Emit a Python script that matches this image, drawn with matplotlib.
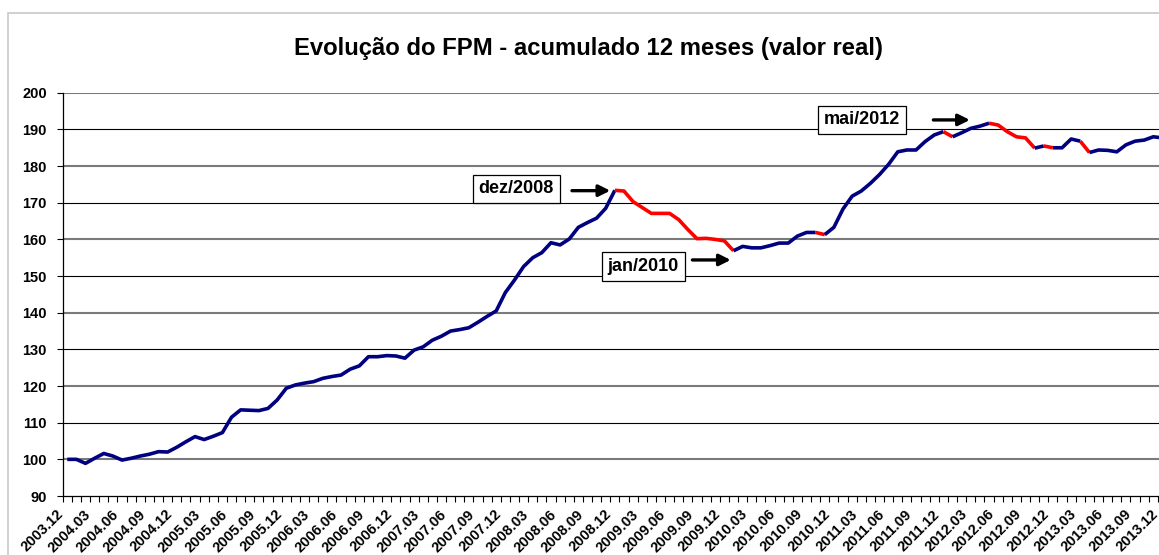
import matplotlib
matplotlib.use("Agg")
import matplotlib.pyplot as plt
from matplotlib.patches import Rectangle
from matplotlib.transforms import ScaledTranslation
import numpy as np

# ---------------- data ----------------
title = "Evolução do FPM - acumulado 12 meses (valor real)"

months = [f"{2003 + (11 + i) // 12}.{(11 + i) % 12 + 1:02d}" for i in range(121)]

values = [
    100.0, 100.0, 98.9, 100.3, 101.6, 100.9, 99.8, 100.3, 100.9, 101.4,
    102.1, 102.0, 103.3, 104.8, 106.2, 105.4, 106.3, 107.3, 111.5, 113.5,
    113.4, 113.3, 113.9, 116.2, 119.4, 120.3, 120.8, 121.2, 122.1, 122.6,
    123.0, 124.6, 125.5, 128.0, 128.0, 128.3, 128.2, 127.6, 129.8, 130.7,
    132.5, 133.6, 135.0, 135.4, 135.9, 137.4, 139.0, 140.5, 145.5, 148.9,
    152.6, 155.0, 156.4, 159.1, 158.5, 160.1, 163.3, 164.6, 165.8, 168.5,
    173.4, 173.2, 170.3, 168.7, 167.1, 167.1, 167.1, 165.4, 162.7, 160.2,
    160.3, 160.0, 159.6, 156.9, 158.1, 157.7, 157.7, 158.3, 159.0, 159.0,
    160.9, 161.9, 161.9, 161.3, 163.3, 168.3, 171.8, 173.2, 175.3, 177.7,
    180.5, 183.9, 184.4, 184.4, 186.7, 188.5, 189.4, 188.0, 189.1, 190.3,
    190.9, 191.7, 191.2, 189.4, 188.0, 187.7, 184.9, 185.5, 185.0, 185.0,
    187.4, 186.8, 183.7, 184.4, 184.3, 183.9, 185.8, 186.8, 187.1, 188.0,
    187.7,
]

# segments (start index) drawn in red
red_segments = list(range(60, 73)) + [82, 96, 101, 102, 103, 104, 105, 107, 111]

# annotations: (label, box x, box y, arrow start x, arrow end x, arrow y)
annotations = [
    ("dez/2008", 49.2, 173.8, 55.3, 59.5, 173.3),
    ("jan/2010", 63.1, 152.6, 68.5, 72.7, 154.4),
    ("mai/2012", 87.1, 192.6, 94.9, 98.9, 192.6),
]

# ---------------- figure ----------------
plt.rcParams['font.family'] = ['Liberation Sans', 'DejaVu Sans']
W, H = 1159, 555
fig = plt.figure(figsize=(W / 100, H / 100), dpi=100)
fig.patch.set_facecolor("white")

# outer light-gray chart border (cropped at right/bottom)
fig.patches.append(Rectangle((8 / W, -0.2), 1.2, 1 - 13 / H + 0.2,
                             transform=fig.transFigure, fill=False,
                             edgecolor="#c8c8c8", lw=1.2))

ax_left, ax_right = 62.7, 1167.0
ax_top, ax_bot = 92.8, 496.0
ax = fig.add_axes([ax_left / W, 1 - ax_bot / H, (ax_right - ax_left) / W,
                   (ax_bot - ax_top) / H])

x = np.arange(len(values))
yv = np.array(values)
colors = ["red" if i in red_segments else "navy" for i in range(len(values) - 1)]

# group consecutive segments with the same colour
start = 0
for i in range(1, len(colors) + 1):
    if i == len(colors) or colors[i] != colors[start]:
        c = "#FF0000" if colors[start] == "red" else "#000080"
        ax.plot(x[start:i + 1], yv[start:i + 1], color=c, lw=2.6,
                solid_joinstyle="round", solid_capstyle="butt", zorder=3)
        start = i

ax.set_xlim(-0.5, len(values) - 0.5)
ax.set_ylim(90, 200)

# y axis
yticks = list(range(90, 201, 10))
ax.set_yticks(yticks)
ax.set_yticklabels([str(v) for v in yticks], fontsize=10.5, fontweight="bold")
ax.tick_params(axis="y", direction="out", length=4, width=0.8, pad=7.5)
for v in yticks[1:]:
    if (v // 10) % 2 == 0:
        ax.axhline(v, color="#7a7a7a", lw=1.5, zorder=1)
    else:
        ax.axhline(v, color="black", lw=0.8, zorder=1)

# x axis: ticks at category boundaries, labels every 3 months
ax.set_xticks(np.arange(-0.5, len(values), 1), minor=True)
ax.set_xticks(x[::3])
ax.set_xticklabels(months[::3], rotation=45, ha="right", va="top",
                   rotation_mode="anchor", fontsize=10.5, fontweight="bold")
ax.tick_params(axis="x", which="major", length=0, pad=8)
ax.tick_params(axis="x", which="minor", direction="out", length=4, width=0.8)
shift = ScaledTranslation(-11 / 100, 0, fig.dpi_scale_trans)
for lbl in ax.get_xticklabels():
    lbl.set_transform(lbl.get_transform() + shift)

for s in ["top", "right"]:
    ax.spines[s].set_visible(False)
for s in ["left", "bottom"]:
    ax.spines[s].set_linewidth(0.9)
    ax.spines[s].set_color("black")

# annotations
for lab, bx, by, ax0, ax1, ay in annotations:
    ax.text(bx, by, lab, ha="center", va="center", fontsize=13,
            fontweight="bold", zorder=5,
            bbox=dict(boxstyle="square,pad=0.32", fc="white", ec="black", lw=0.9))
    ax.annotate("", xy=(ax1, ay), xytext=(ax0, ay),
                arrowprops=dict(arrowstyle="-|>", color="black", lw=2.4,
                                mutation_scale=17, shrinkA=0, shrinkB=0),
                zorder=5)

fig.text(589 / W, 1 - 48 / H, title, ha="center", va="center",
         fontsize=17.2, fontweight="bold")

fig.savefig("out.png", dpi=100)
